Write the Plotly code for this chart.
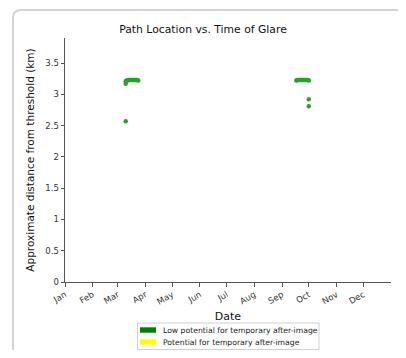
import plotly.graph_objects as go

# ---- data ----
spring_dates = ["2023-03-10", "2023-03-11", "2023-03-12", "2023-03-13", "2023-03-14",
                "2023-03-15", "2023-03-16", "2023-03-17", "2023-03-18", "2023-03-19",
                "2023-03-20", "2023-03-21", "2023-03-22", "2023-03-23", "2023-03-24"]
spring_dist = [3.21, 3.22, 3.22, 3.23, 3.23, 3.23, 3.23, 3.23, 3.23, 3.23,
               3.23, 3.23, 3.23, 3.23, 3.22]
autumn_dates = ["2023-09-17", "2023-09-18", "2023-09-19", "2023-09-20", "2023-09-21",
                "2023-09-22", "2023-09-23", "2023-09-24", "2023-09-25", "2023-09-26",
                "2023-09-27", "2023-09-28", "2023-09-29", "2023-09-30", "2023-10-01"]
autumn_dist = [3.22, 3.23, 3.23, 3.23, 3.23, 3.23, 3.23, 3.23, 3.23, 3.23,
               3.23, 3.23, 3.23, 3.23, 3.22]
extra_dates = ["2023-03-10", "2023-03-10", "2023-10-01", "2023-10-01"]
extra_dist = [3.17, 2.57, 2.92, 2.81]

month_labels = ["Jan", "Feb", "Mar", "Apr", "May", "Jun", "Jul", "Aug", "Sep", "Oct", "Nov", "Dec"]
month_ticks = ["2023-%02d-01" % m for m in range(1, 13)]
y_ticks = [0, 0.5, 1, 1.5, 2, 2.5, 3, 3.5]
y_labels = ["0", "0.5", "1", "1.5", "2", "2.5", "3", "3.5"]

legend_names = ["Low potential for temporary after-image", "Potential for temporary after-image"]
legend_colors = ["#008000", "#ffff00"]

FONT = "DejaVu Sans"
OFF = 8  # default page body margin
W, H = 390, 342  # fits the 406x358 window with the body margin, no scrollbars
L, R, T, B = 57, 7, 30, 68
pw, ph = W - L - R, H - T - B

def px(x):  # page x -> paper
    return (x - OFF - L) / pw

def py(y):  # page y -> paper
    return (H - B - (y - OFF)) / ph

fig = go.Figure()
for d, v in [(spring_dates, spring_dist), (autumn_dates, autumn_dist), (extra_dates, extra_dist)]:
    fig.add_trace(go.Scatter(x=d, y=v, mode="markers",
                             marker=dict(color="#2ca02c", size=4.5, line=dict(width=0)),
                             showlegend=False, hoverinfo="skip", cliponaxis=False))

shapes = []
# card border (left + top with rounded corner)
bc = dict(color="#d4d4d4", width=2)
xl, xr = px(13), px(406)
yt, yb = py(10), py(360)
rx, ry = 8 / pw, 8 / ph
path = f"M {xl},{yb} L {xl},{yt-ry} Q {xl},{yt} {xl+rx},{yt} L {xr},{yt}"
shapes.append(dict(type="path", xref="paper", yref="paper", path=path, line=bc, layer="below"))
# legend box
shapes.append(dict(type="rect", xref="paper", yref="paper", x0=px(137.5), x1=px(319),
                   y0=py(349.5), y1=py(323), line=dict(color="#d0d0d0", width=1),
                   fillcolor="white"))
annotations = []
for i, (name, col) in enumerate(zip(legend_names, legend_colors)):
    cy = 330 + i * 12
    shapes.append(dict(type="rect", xref="paper", yref="paper", x0=px(140), x1=px(156),
                       y0=py(cy + 2.7), y1=py(cy - 2.7), line=dict(width=0), fillcolor=col))
    annotations.append(dict(xref="paper", yref="paper", x=px(160.5), y=py(cy), text=name,
                            showarrow=False, xanchor="left", yanchor="middle",
                            font=dict(family=FONT, size=7.7, color="#222")))

fig.update_layout(
    width=W, height=H,
    margin=dict(l=L, r=R, t=T, b=B, autoexpand=False),
    paper_bgcolor="white", plot_bgcolor="white",
    font=dict(family=FONT, color="#222"),
    title=dict(text="Path Location vs. Time of Glare", x=px(228), xanchor="center",
               y=1 - (29 - OFF) / H, yanchor="middle", font=dict(family=FONT, size=10.8, color="#111")),
    shapes=shapes, annotations=annotations,
    showlegend=False,
)
fig.update_xaxes(type="date", range=["2023-01-01", "2024-01-01"], automargin=False,
                 tickvals=month_ticks, ticktext=month_labels, tickangle=-30,
                 tickfont=dict(family=FONT, size=8.5, color="#333"),
                 showgrid=False, zeroline=False, showline=True, linecolor="#555", linewidth=1,
                 ticks="outside", ticklen=3.5, tickcolor="#555",
                 title=dict(text="Date", font=dict(family=FONT, size=11, color="#111"), standoff=6))
fig.update_yaxes(range=[0, 3.9], tickvals=y_ticks, ticktext=y_labels, automargin=False,
                 tickfont=dict(family=FONT, size=8.5, color="#333"),
                 showgrid=False, zeroline=False, showline=True, linecolor="#555", linewidth=1,
                 ticks="outside", ticklen=3.5, tickcolor="#555",
                 title=dict(text="Approximate distance from threshold (km)",
                            font=dict(family=FONT, size=10.5, color="#111"), standoff=8))

fig.write_html("out.html")
